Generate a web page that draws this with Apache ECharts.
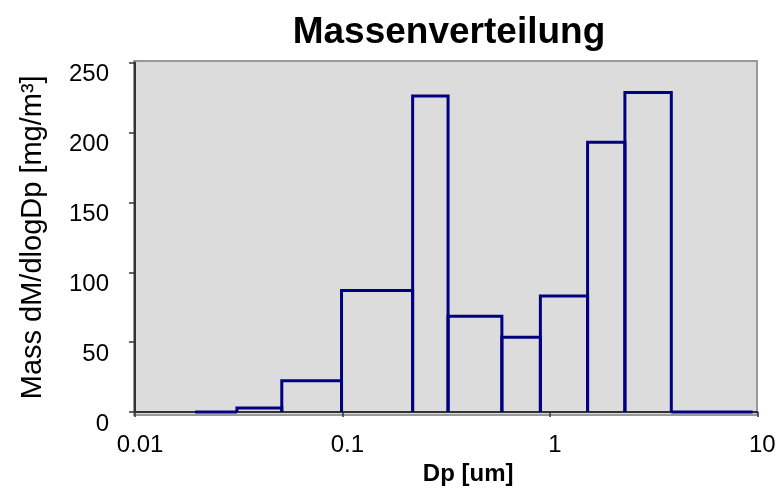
<!DOCTYPE html>
<html>
<head>
<meta charset="utf-8">
<script src="https://cdn.jsdelivr.net/npm/echarts@6/dist/echarts.min.js"></script>
<style>
  html, body { margin: 0; padding: 0; background: #fff; }
  #chart { width: 784px; height: 491px; }
</style>
</head>
<body>
<div id="chart"></div>
<script>
// bin edges in um (log spaced impactor stages) and mass per bin
const binEdges = [0.0195, 0.031, 0.051, 0.099, 0.218, 0.323, 0.587, 0.90, 1.52, 2.30, 3.85, 9.5];
const massValues = [0, 3, 22.5, 87, 226, 68.5, 53.5, 83, 193, 228.5, 0];
const yTicks = [0, 50, 100, 150, 200, 250];

const bins = massValues.map((v, i) => [binEdges[i], binEdges[i + 1], v]);

const font = "'Liberation Sans', Arial, sans-serif";
const chart = echarts.init(document.getElementById("chart"));

chart.setOption({
  animation: false,
  backgroundColor: "#fff",
  title: {
    text: "Massenverteilung",
    left: 444,
    textAlign: "center",
    top: 9,
    textStyle: { fontFamily: font, fontSize: 37, fontWeight: "bold", color: "#000" },
  },
  grid: [
    // frame behind the plot
    { left: 134, right: 27, top: 61, bottom: 76, show: true,
      backgroundColor: "#dcdcdc", borderColor: "#999", borderWidth: 2 },
    { left: 135, right: 26.7, top: 62.5, bottom: 72.7 },
  ],
  xAxis: [
    { gridIndex: 0, type: "value", show: false, min: 0, max: 1 },
    {
      gridIndex: 1,
      type: "log",
      logBase: 10,
      min: 0.01,
      max: 10,
      name: "Dp [um]",
      nameLocation: "middle",
      nameGap: 47,
      nameTextStyle: { fontFamily: font, fontSize: 24, fontWeight: "bold", color: "#000", padding: [0, 0, 0, 44] },
      axisLine: { lineStyle: { color: "#333", width: 2 } },
      axisTick: { show: true, length: 5, lineStyle: { color: "#333", width: 1.5 } },
      minorTick: { show: false },
      splitLine: { show: false },
      axisLabel: { fontFamily: font, fontSize: 24, color: "#000", margin: 21,
        padding: [0, 0, 0, 10], formatter: (v) => String(v) },
    },
  ],
  yAxis: [
    { gridIndex: 0, type: "value", show: false, min: 0, max: 1 },
    {
      gridIndex: 1,
      type: "value",
      min: yTicks[0],
      max: yTicks[yTicks.length - 1],
      interval: 50,
      name: "Mass dM/dlogDp [mg/m³]",
      nameLocation: "middle",
      nameGap: 88,
      nameTextStyle: { fontFamily: font, fontSize: 29, color: "#000" },
      axisLine: { show: true, lineStyle: { color: "#333", width: 2 } },
      axisTick: { show: true, length: 6, lineStyle: { color: "#333", width: 1.5 } },
      splitLine: { show: false },
      axisLabel: { fontFamily: font, fontSize: 24, color: "#000", margin: 26,
        verticalAlign: "top" },
    },
  ],
  series: [
    {
      type: "custom",
      xAxisIndex: 1,
      yAxisIndex: 1,
      data: bins,
      encode: { x: [0, 1], y: 2 },
      renderItem: (params, api) => {
        const lo = api.value(0), hi = api.value(1), v = api.value(2);
        const p0 = api.coord([lo, 0]);
        const p1 = api.coord([lo, v]);
        const p2 = api.coord([hi, v]);
        const p3 = api.coord([hi, 0]);
        return {
          type: "polyline",
          shape: { points: [p0, p1, p2, p3] },
          style: { fill: null, stroke: "#000080", lineWidth: 3, lineJoin: "miter" },
          z2: 10,
        };
      },
    },
  ],
});
</script>
</body>
</html>
